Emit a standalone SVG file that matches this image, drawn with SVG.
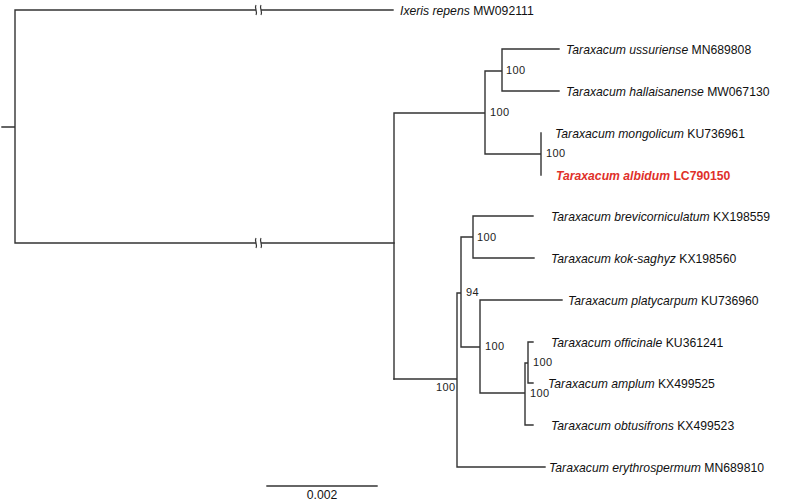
<svg xmlns="http://www.w3.org/2000/svg" width="800" height="502" viewBox="0 0 800 502">
<style>
.br{fill:none;stroke:#333;stroke-width:1.4;stroke-linecap:square}
.tip{font-family:"Liberation Sans",Arial,sans-serif;font-size:12.2px;fill:#111}
.sp{font-style:italic}
.bs{font-family:"Liberation Sans",Arial,sans-serif;font-size:11px;fill:#222;letter-spacing:0.4px}
.red{fill:#e0302a;font-weight:bold}
.brk{fill:none;stroke:#333;stroke-width:1.2}
</style>
<rect width="800" height="502" fill="#fff"/>
<g id="connectors">
<path class="br" d="M2,127H15M15,10V243M15,10H393M15,243H394"/>
<path class="br" d="M394,113V379M394,113H485M485,71V154M485,71H502M502,49V91M502,49H559M502,91H559M485,154H541M541,133V175"/>
<path class="br" d="M394,379H457M457,293V467M457,467H545M457,293H461M461,237V347M461,237H473M473,216V258M473,216H533M473,258H534M461,347H480M480,300V393M480,300H562M480,393H525M525,363V425M525,425H533M525,363H528M528,342V383M528,342H533M528,383H533"/>
<rect x="256" y="5" width="5" height="10" fill="#fff"/>
<rect x="256" y="238" width="5" height="10" fill="#fff"/>
<path class="brk" d="M256,5c-2,3 2,7 0,10M261,5c-2,3 2,7 0,10"/>
<path class="brk" d="M256,238c-2,3 2,7 0,10M261,238c-2,3 2,7 0,10"/>
<path class="br" d="M267,486H377"/>
</g>
<g id="tips">
<text id="n1" class="tip" x="400" y="15"><tspan class="sp">Ixeris repens</tspan> MW092111</text>
<text id="n2" class="tip" x="566" y="54"><tspan class="sp">Taraxacum ussuriense</tspan> MN689808</text>
<text id="n3" class="tip" x="566" y="96"><tspan class="sp">Taraxacum hallaisanense</tspan> MW067130</text>
<text id="n4" class="tip" x="555" y="138"><tspan class="sp">Taraxacum mongolicum</tspan> KU736961</text>
<text id="n5" class="tip red" x="556" y="180"><tspan class="sp">Taraxacum albidum</tspan> LC790150</text>
<text id="n6" class="tip" x="551" y="221"><tspan class="sp">Taraxacum brevicorniculatum</tspan> KX198559</text>
<text id="n7" class="tip" x="551" y="263"><tspan class="sp">Taraxacum kok-saghyz</tspan> KX198560</text>
<text id="n8" class="tip" x="568" y="305"><tspan class="sp">Taraxacum platycarpum</tspan> KU736960</text>
<text id="n9" class="tip" x="551" y="347"><tspan class="sp">Taraxacum officinale</tspan> KU361241</text>
<text id="n10" class="tip" x="548" y="388"><tspan class="sp">Taraxacum amplum</tspan> KX499525</text>
<text id="n11" class="tip" x="551" y="430"><tspan class="sp">Taraxacum obtusifrons</tspan> KX499523</text>
<text id="n12" class="tip" x="549" y="472"><tspan class="sp">Taraxacum erythrospermum</tspan> MN689810</text>
</g>
<g id="support">
<text class="bs" x="506" y="74">100</text>
<text class="bs" x="490" y="116">100</text>
<text class="bs" x="546" y="157">100</text>
<text class="bs" x="477" y="241">100</text>
<text class="bs" x="466" y="296">94</text>
<text class="bs" x="485" y="350">100</text>
<text class="bs" x="533" y="366">100</text>
<text class="bs" x="530" y="397">100</text>
<text class="bs" x="436" y="391">100</text>
</g>
<text class="tip" x="322" y="499" text-anchor="middle" font-size="12">0.002</text>
</svg>
